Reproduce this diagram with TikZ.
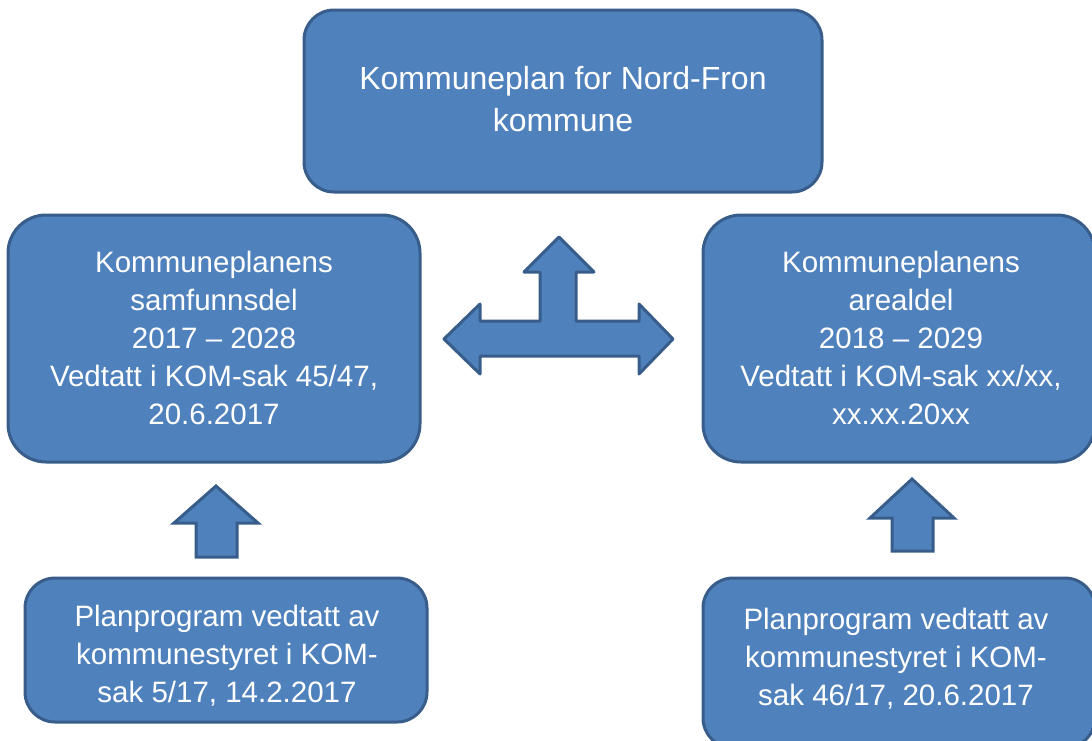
\documentclass[tikz,border=0pt]{standalone}
\usepackage{fontspec}
\setmainfont{Liberation Sans}
\definecolor{boxfill}{HTML}{4F81BD}
\definecolor{boxline}{HTML}{385D8A}
\begin{document}
\begin{tikzpicture}[x=1pt,y=-1pt,
  box/.style={draw=boxline, fill=boxfill, line width=3pt, rounded corners=30pt, inner sep=0pt},
  lbl/.style={text=white, align=center, inner sep=0pt, font=\fontsize{29.5}{38}\selectfont},
  blockarrow/.style={draw=boxline, fill=boxfill, line width=3pt, line join=round}]
\useasboundingbox (0,0) rectangle (1092,740);
\clip (0,0) rectangle (1092,740);
% boxes
\node[box, minimum width=518pt, minimum height=182pt] (top) at (563,101) {};
\node[box, rounded corners=38pt, minimum width=412pt, minimum height=247pt] (left) at (214,338.5) {};
\node[box, rounded corners=38pt, minimum width=392pt, minimum height=247pt] (right) at (899,338.5) {};
\node[box, minimum width=402pt, minimum height=144pt] (botleft) at (226,650) {};
\node[box, minimum width=392pt, minimum height=170pt] (botright) at (899,663) {};
% texts
\node[lbl, font=\fontsize{32}{42}\selectfont] (toptext) at (563,99)
  {Kommuneplan for Nord-Fron\\kommune};
\node[lbl] (lefttext) at (214,337.5)
  {Kommuneplanens\\samfunnsdel\\2017 -- 2028\\Vedtatt i KOM-sak 45/47,\\20.6.2017};
\node[lbl] (righttext) at (901,337.5)
  {Kommuneplanens\\arealdel\\2018 -- 2029\\Vedtatt i KOM-sak xx/xx,\\xx.xx.20xx};
\node[lbl] (botlefttext) at (227,655.5)
  {Planprogram vedtatt av\\kommunestyret i KOM-\\sak 5/17, 14.2.2017};
\node[lbl] (botrighttext) at (896,658.5)
  {Planprogram vedtatt av\\kommunestyret i KOM-\\sak 46/17, 20.6.2017};
% three-way arrow
\draw[blockarrow] (559,237) -- (594,272) -- (576,272) -- (576,321) -- (639,321) -- (639,304)
  -- (673,339) -- (639,374) -- (639,356) -- (480,356) -- (480,374) -- (444,339)
  -- (480,304) -- (480,321) -- (540,321) -- (540,272) -- (524,272) -- cycle;
% up arrows
\draw[blockarrow, line join=miter] (216,486) -- (258,523) -- (237,523) -- (237,557) -- (196,557)
  -- (196,523) -- (174,523) -- cycle;
\draw[blockarrow, line join=miter] (912,479) -- (954,518) -- (933,518) -- (933,551) -- (892,551)
  -- (892,518) -- (870,518) -- cycle;
\end{tikzpicture}
\end{document}
